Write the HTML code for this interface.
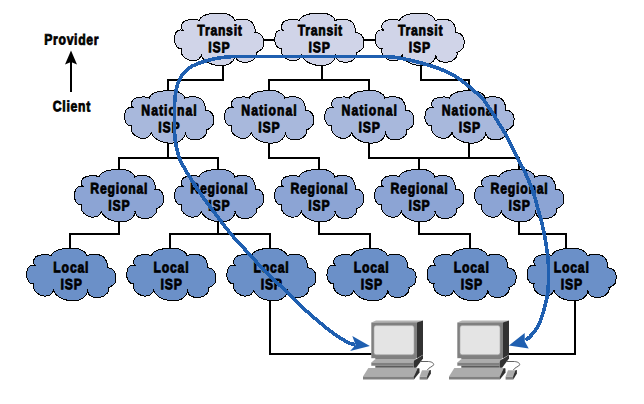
<!DOCTYPE html>
<html lang="en"><head><meta charset="utf-8"><title>ISP hierarchy</title>
<style>
html,body{margin:0;padding:0;background:#fff;}
body{width:644px;height:404px;overflow:hidden;}
svg{display:block;}
.t{font-family:"Liberation Sans",sans-serif;font-weight:bold;font-size:15px;text-anchor:middle;fill:#000;text-rendering:geometricPrecision;stroke:#000;stroke-width:0.8px;}
</style></head><body>
<svg width="644" height="404" viewBox="0 0 644 404">
<rect width="644" height="404" fill="#fff"/>
<path d="M263.5 40H274.5 M363.5 40H375 M223 65V80 M168 91.5V80H224 M322 65V80 M269 91.5V80H369V91.5 M421 65V80H469V91.5 M168 142V158 M119 170V158H218V170 M269 142V158H319V170 M369 142V158H519V170 M469 142V158 M419 158V170 M119 221V234H70V249 M218 221V234 M170 249V234H270V249 M319 221V234H370V249 M419 221V234H470V249 M519 221V234H566V249 M270 300V354H371.5 M575 300V354H508.5" fill="none" stroke="#000" stroke-width="2" stroke-linejoin="miter" stroke-linecap="butt"/>
<path transform="translate(174.00 13.00)" d="M24.90 7.30 C25.27 6.83 26.15 5.33 27.10 4.50 C28.05 3.67 29.00 2.93 30.60 2.30 C32.20 1.67 34.45 1.05 36.70 0.70 C38.95 0.35 41.75 0.27 44.10 0.20 C46.45 0.13 48.95 0.02 50.80 0.30 C52.65 0.58 53.82 1.20 55.20 1.90 C56.58 2.60 58.17 3.57 59.10 4.50 C60.03 5.43 60.52 7.00 60.80 7.50 C61.32 7.35 62.65 6.80 63.90 6.60 C65.15 6.40 66.85 6.30 68.30 6.30 C69.75 6.30 71.17 6.25 72.60 6.60 C74.03 6.95 75.75 7.58 76.90 8.40 C78.05 9.22 78.82 10.27 79.50 11.50 C80.18 12.73 80.70 14.43 81.00 15.80 C81.30 17.17 81.25 19.05 81.30 19.70 C81.88 19.80 83.72 19.78 84.80 20.30 C85.88 20.82 87.05 21.82 87.80 22.80 C88.55 23.78 89.02 25.03 89.30 26.20 C89.58 27.37 89.60 28.37 89.50 29.80 C89.40 31.23 89.35 33.48 88.70 34.80 C88.05 36.12 86.62 36.92 85.60 37.70 C84.58 38.48 83.10 39.20 82.60 39.50 C82.52 40.15 82.62 42.25 82.10 43.40 C81.58 44.55 80.50 45.55 79.50 46.40 C78.50 47.25 77.55 48.03 76.10 48.50 C74.65 48.97 72.55 49.22 70.80 49.20 C69.05 49.18 66.97 48.93 65.60 48.40 C64.23 47.87 63.32 46.98 62.60 46.00 C61.88 45.02 61.52 43.08 61.30 42.50 C61.22 42.87 61.23 43.77 60.80 44.70 C60.37 45.63 59.78 47.00 58.70 48.10 C57.62 49.20 56.20 50.53 54.30 51.30 C52.40 52.07 49.80 52.65 47.30 52.70 C44.80 52.75 41.65 52.22 39.30 51.60 C36.95 50.98 34.95 50.08 33.20 49.00 C31.45 47.92 29.78 46.25 28.80 45.10 C27.82 43.95 27.55 42.60 27.30 42.10 C27.12 42.48 26.82 43.62 26.20 44.40 C25.58 45.18 24.83 46.22 23.60 46.80 C22.37 47.38 20.38 47.90 18.80 47.90 C17.22 47.90 15.62 47.48 14.10 46.80 C12.58 46.12 10.80 44.88 9.70 43.80 C8.60 42.72 7.93 41.68 7.50 40.30 C7.07 38.92 7.17 36.30 7.10 35.50 C6.67 35.43 5.30 35.53 4.50 35.10 C3.70 34.67 2.93 33.87 2.30 32.90 C1.67 31.93 1.00 30.48 0.70 29.30 C0.40 28.12 0.43 27.05 0.50 25.80 C0.57 24.55 0.75 22.97 1.10 21.80 C1.45 20.63 1.88 19.58 2.60 18.80 C3.32 18.02 4.37 17.38 5.40 17.10 C6.43 16.82 8.23 17.10 8.80 17.10 C8.58 16.82 7.72 16.27 7.50 15.40 C7.28 14.53 7.13 13.03 7.50 11.90 C7.87 10.77 8.60 9.43 9.70 8.60 C10.80 7.77 12.67 7.25 14.10 6.90 C15.53 6.55 17.00 6.55 18.30 6.50 C19.60 6.45 20.80 6.47 21.90 6.60 C23.00 6.73 24.40 7.18 24.90 7.30Z M24.90 7.30 l0.64 0.63 M60.80 7.50 l-0.58 0.69 M81.30 19.70 l-0.88 0.17 M82.60 39.50 l-0.85 -0.29 M61.30 42.50 l-0.65 -0.62 M27.30 42.10 l0.67 -0.60 M7.10 35.50 l0.88 -0.21 M8.80 17.10 l0.87 0.23" fill="#d0d4e8" stroke="#000" stroke-width="1" stroke-linejoin="miter" shape-rendering="crispEdges"/>
<text transform="translate(219.60 35.30) rotate(0.3) scale(0.810 1)" textLength="54.94" lengthAdjust="spacing" class="t">Transit</text><text transform="translate(218.90 52.40) rotate(0.3) scale(0.810 1)" textLength="26.30" lengthAdjust="spacing" class="t">ISP</text>
<path transform="translate(274.30 13.00)" d="M24.90 7.30 C25.27 6.83 26.15 5.33 27.10 4.50 C28.05 3.67 29.00 2.93 30.60 2.30 C32.20 1.67 34.45 1.05 36.70 0.70 C38.95 0.35 41.75 0.27 44.10 0.20 C46.45 0.13 48.95 0.02 50.80 0.30 C52.65 0.58 53.82 1.20 55.20 1.90 C56.58 2.60 58.17 3.57 59.10 4.50 C60.03 5.43 60.52 7.00 60.80 7.50 C61.32 7.35 62.65 6.80 63.90 6.60 C65.15 6.40 66.85 6.30 68.30 6.30 C69.75 6.30 71.17 6.25 72.60 6.60 C74.03 6.95 75.75 7.58 76.90 8.40 C78.05 9.22 78.82 10.27 79.50 11.50 C80.18 12.73 80.70 14.43 81.00 15.80 C81.30 17.17 81.25 19.05 81.30 19.70 C81.88 19.80 83.72 19.78 84.80 20.30 C85.88 20.82 87.05 21.82 87.80 22.80 C88.55 23.78 89.02 25.03 89.30 26.20 C89.58 27.37 89.60 28.37 89.50 29.80 C89.40 31.23 89.35 33.48 88.70 34.80 C88.05 36.12 86.62 36.92 85.60 37.70 C84.58 38.48 83.10 39.20 82.60 39.50 C82.52 40.15 82.62 42.25 82.10 43.40 C81.58 44.55 80.50 45.55 79.50 46.40 C78.50 47.25 77.55 48.03 76.10 48.50 C74.65 48.97 72.55 49.22 70.80 49.20 C69.05 49.18 66.97 48.93 65.60 48.40 C64.23 47.87 63.32 46.98 62.60 46.00 C61.88 45.02 61.52 43.08 61.30 42.50 C61.22 42.87 61.23 43.77 60.80 44.70 C60.37 45.63 59.78 47.00 58.70 48.10 C57.62 49.20 56.20 50.53 54.30 51.30 C52.40 52.07 49.80 52.65 47.30 52.70 C44.80 52.75 41.65 52.22 39.30 51.60 C36.95 50.98 34.95 50.08 33.20 49.00 C31.45 47.92 29.78 46.25 28.80 45.10 C27.82 43.95 27.55 42.60 27.30 42.10 C27.12 42.48 26.82 43.62 26.20 44.40 C25.58 45.18 24.83 46.22 23.60 46.80 C22.37 47.38 20.38 47.90 18.80 47.90 C17.22 47.90 15.62 47.48 14.10 46.80 C12.58 46.12 10.80 44.88 9.70 43.80 C8.60 42.72 7.93 41.68 7.50 40.30 C7.07 38.92 7.17 36.30 7.10 35.50 C6.67 35.43 5.30 35.53 4.50 35.10 C3.70 34.67 2.93 33.87 2.30 32.90 C1.67 31.93 1.00 30.48 0.70 29.30 C0.40 28.12 0.43 27.05 0.50 25.80 C0.57 24.55 0.75 22.97 1.10 21.80 C1.45 20.63 1.88 19.58 2.60 18.80 C3.32 18.02 4.37 17.38 5.40 17.10 C6.43 16.82 8.23 17.10 8.80 17.10 C8.58 16.82 7.72 16.27 7.50 15.40 C7.28 14.53 7.13 13.03 7.50 11.90 C7.87 10.77 8.60 9.43 9.70 8.60 C10.80 7.77 12.67 7.25 14.10 6.90 C15.53 6.55 17.00 6.55 18.30 6.50 C19.60 6.45 20.80 6.47 21.90 6.60 C23.00 6.73 24.40 7.18 24.90 7.30Z M24.90 7.30 l0.64 0.63 M60.80 7.50 l-0.58 0.69 M81.30 19.70 l-0.88 0.17 M82.60 39.50 l-0.85 -0.29 M61.30 42.50 l-0.65 -0.62 M27.30 42.10 l0.67 -0.60 M7.10 35.50 l0.88 -0.21 M8.80 17.10 l0.87 0.23" fill="#d0d4e8" stroke="#000" stroke-width="1" stroke-linejoin="miter" shape-rendering="crispEdges"/>
<text transform="translate(319.90 35.30) rotate(0.3) scale(0.810 1)" textLength="54.94" lengthAdjust="spacing" class="t">Transit</text><text transform="translate(319.20 52.40) rotate(0.3) scale(0.810 1)" textLength="26.30" lengthAdjust="spacing" class="t">ISP</text>
<path transform="translate(374.60 13.00)" d="M24.90 7.30 C25.27 6.83 26.15 5.33 27.10 4.50 C28.05 3.67 29.00 2.93 30.60 2.30 C32.20 1.67 34.45 1.05 36.70 0.70 C38.95 0.35 41.75 0.27 44.10 0.20 C46.45 0.13 48.95 0.02 50.80 0.30 C52.65 0.58 53.82 1.20 55.20 1.90 C56.58 2.60 58.17 3.57 59.10 4.50 C60.03 5.43 60.52 7.00 60.80 7.50 C61.32 7.35 62.65 6.80 63.90 6.60 C65.15 6.40 66.85 6.30 68.30 6.30 C69.75 6.30 71.17 6.25 72.60 6.60 C74.03 6.95 75.75 7.58 76.90 8.40 C78.05 9.22 78.82 10.27 79.50 11.50 C80.18 12.73 80.70 14.43 81.00 15.80 C81.30 17.17 81.25 19.05 81.30 19.70 C81.88 19.80 83.72 19.78 84.80 20.30 C85.88 20.82 87.05 21.82 87.80 22.80 C88.55 23.78 89.02 25.03 89.30 26.20 C89.58 27.37 89.60 28.37 89.50 29.80 C89.40 31.23 89.35 33.48 88.70 34.80 C88.05 36.12 86.62 36.92 85.60 37.70 C84.58 38.48 83.10 39.20 82.60 39.50 C82.52 40.15 82.62 42.25 82.10 43.40 C81.58 44.55 80.50 45.55 79.50 46.40 C78.50 47.25 77.55 48.03 76.10 48.50 C74.65 48.97 72.55 49.22 70.80 49.20 C69.05 49.18 66.97 48.93 65.60 48.40 C64.23 47.87 63.32 46.98 62.60 46.00 C61.88 45.02 61.52 43.08 61.30 42.50 C61.22 42.87 61.23 43.77 60.80 44.70 C60.37 45.63 59.78 47.00 58.70 48.10 C57.62 49.20 56.20 50.53 54.30 51.30 C52.40 52.07 49.80 52.65 47.30 52.70 C44.80 52.75 41.65 52.22 39.30 51.60 C36.95 50.98 34.95 50.08 33.20 49.00 C31.45 47.92 29.78 46.25 28.80 45.10 C27.82 43.95 27.55 42.60 27.30 42.10 C27.12 42.48 26.82 43.62 26.20 44.40 C25.58 45.18 24.83 46.22 23.60 46.80 C22.37 47.38 20.38 47.90 18.80 47.90 C17.22 47.90 15.62 47.48 14.10 46.80 C12.58 46.12 10.80 44.88 9.70 43.80 C8.60 42.72 7.93 41.68 7.50 40.30 C7.07 38.92 7.17 36.30 7.10 35.50 C6.67 35.43 5.30 35.53 4.50 35.10 C3.70 34.67 2.93 33.87 2.30 32.90 C1.67 31.93 1.00 30.48 0.70 29.30 C0.40 28.12 0.43 27.05 0.50 25.80 C0.57 24.55 0.75 22.97 1.10 21.80 C1.45 20.63 1.88 19.58 2.60 18.80 C3.32 18.02 4.37 17.38 5.40 17.10 C6.43 16.82 8.23 17.10 8.80 17.10 C8.58 16.82 7.72 16.27 7.50 15.40 C7.28 14.53 7.13 13.03 7.50 11.90 C7.87 10.77 8.60 9.43 9.70 8.60 C10.80 7.77 12.67 7.25 14.10 6.90 C15.53 6.55 17.00 6.55 18.30 6.50 C19.60 6.45 20.80 6.47 21.90 6.60 C23.00 6.73 24.40 7.18 24.90 7.30Z M24.90 7.30 l0.64 0.63 M60.80 7.50 l-0.58 0.69 M81.30 19.70 l-0.88 0.17 M82.60 39.50 l-0.85 -0.29 M61.30 42.50 l-0.65 -0.62 M27.30 42.10 l0.67 -0.60 M7.10 35.50 l0.88 -0.21 M8.80 17.10 l0.87 0.23" fill="#d0d4e8" stroke="#000" stroke-width="1" stroke-linejoin="miter" shape-rendering="crispEdges"/>
<text transform="translate(420.20 35.30) rotate(0.3) scale(0.810 1)" textLength="54.94" lengthAdjust="spacing" class="t">Transit</text><text transform="translate(419.50 52.40) rotate(0.3) scale(0.810 1)" textLength="26.30" lengthAdjust="spacing" class="t">ISP</text>
<path transform="translate(124.10 90.50)" d="M24.90 7.30 C25.27 6.83 26.15 5.33 27.10 4.50 C28.05 3.67 29.00 2.93 30.60 2.30 C32.20 1.67 34.45 1.05 36.70 0.70 C38.95 0.35 41.75 0.27 44.10 0.20 C46.45 0.13 48.95 0.02 50.80 0.30 C52.65 0.58 53.82 1.20 55.20 1.90 C56.58 2.60 58.17 3.57 59.10 4.50 C60.03 5.43 60.52 7.00 60.80 7.50 C61.32 7.35 62.65 6.80 63.90 6.60 C65.15 6.40 66.85 6.30 68.30 6.30 C69.75 6.30 71.17 6.25 72.60 6.60 C74.03 6.95 75.75 7.58 76.90 8.40 C78.05 9.22 78.82 10.27 79.50 11.50 C80.18 12.73 80.70 14.43 81.00 15.80 C81.30 17.17 81.25 19.05 81.30 19.70 C81.88 19.80 83.72 19.78 84.80 20.30 C85.88 20.82 87.05 21.82 87.80 22.80 C88.55 23.78 89.02 25.03 89.30 26.20 C89.58 27.37 89.60 28.37 89.50 29.80 C89.40 31.23 89.35 33.48 88.70 34.80 C88.05 36.12 86.62 36.92 85.60 37.70 C84.58 38.48 83.10 39.20 82.60 39.50 C82.52 40.15 82.62 42.25 82.10 43.40 C81.58 44.55 80.50 45.55 79.50 46.40 C78.50 47.25 77.55 48.03 76.10 48.50 C74.65 48.97 72.55 49.22 70.80 49.20 C69.05 49.18 66.97 48.93 65.60 48.40 C64.23 47.87 63.32 46.98 62.60 46.00 C61.88 45.02 61.52 43.08 61.30 42.50 C61.22 42.87 61.23 43.77 60.80 44.70 C60.37 45.63 59.78 47.00 58.70 48.10 C57.62 49.20 56.20 50.53 54.30 51.30 C52.40 52.07 49.80 52.65 47.30 52.70 C44.80 52.75 41.65 52.22 39.30 51.60 C36.95 50.98 34.95 50.08 33.20 49.00 C31.45 47.92 29.78 46.25 28.80 45.10 C27.82 43.95 27.55 42.60 27.30 42.10 C27.12 42.48 26.82 43.62 26.20 44.40 C25.58 45.18 24.83 46.22 23.60 46.80 C22.37 47.38 20.38 47.90 18.80 47.90 C17.22 47.90 15.62 47.48 14.10 46.80 C12.58 46.12 10.80 44.88 9.70 43.80 C8.60 42.72 7.93 41.68 7.50 40.30 C7.07 38.92 7.17 36.30 7.10 35.50 C6.67 35.43 5.30 35.53 4.50 35.10 C3.70 34.67 2.93 33.87 2.30 32.90 C1.67 31.93 1.00 30.48 0.70 29.30 C0.40 28.12 0.43 27.05 0.50 25.80 C0.57 24.55 0.75 22.97 1.10 21.80 C1.45 20.63 1.88 19.58 2.60 18.80 C3.32 18.02 4.37 17.38 5.40 17.10 C6.43 16.82 8.23 17.10 8.80 17.10 C8.58 16.82 7.72 16.27 7.50 15.40 C7.28 14.53 7.13 13.03 7.50 11.90 C7.87 10.77 8.60 9.43 9.70 8.60 C10.80 7.77 12.67 7.25 14.10 6.90 C15.53 6.55 17.00 6.55 18.30 6.50 C19.60 6.45 20.80 6.47 21.90 6.60 C23.00 6.73 24.40 7.18 24.90 7.30Z M24.90 7.30 l0.64 0.63 M60.80 7.50 l-0.58 0.69 M81.30 19.70 l-0.88 0.17 M82.60 39.50 l-0.85 -0.29 M61.30 42.50 l-0.65 -0.62 M27.30 42.10 l0.67 -0.60 M7.10 35.50 l0.88 -0.21 M8.80 17.10 l0.87 0.23" fill="#a8b8dc" stroke="#000" stroke-width="1" stroke-linejoin="miter" shape-rendering="crispEdges"/>
<text transform="translate(169.00 115.30) rotate(0.3) scale(0.810 1)" textLength="68.27" lengthAdjust="spacing" class="t">National</text><text transform="translate(169.00 132.40) rotate(0.3) scale(0.810 1)" textLength="26.30" lengthAdjust="spacing" class="t">ISP</text>
<path transform="translate(224.10 90.50)" d="M24.90 7.30 C25.27 6.83 26.15 5.33 27.10 4.50 C28.05 3.67 29.00 2.93 30.60 2.30 C32.20 1.67 34.45 1.05 36.70 0.70 C38.95 0.35 41.75 0.27 44.10 0.20 C46.45 0.13 48.95 0.02 50.80 0.30 C52.65 0.58 53.82 1.20 55.20 1.90 C56.58 2.60 58.17 3.57 59.10 4.50 C60.03 5.43 60.52 7.00 60.80 7.50 C61.32 7.35 62.65 6.80 63.90 6.60 C65.15 6.40 66.85 6.30 68.30 6.30 C69.75 6.30 71.17 6.25 72.60 6.60 C74.03 6.95 75.75 7.58 76.90 8.40 C78.05 9.22 78.82 10.27 79.50 11.50 C80.18 12.73 80.70 14.43 81.00 15.80 C81.30 17.17 81.25 19.05 81.30 19.70 C81.88 19.80 83.72 19.78 84.80 20.30 C85.88 20.82 87.05 21.82 87.80 22.80 C88.55 23.78 89.02 25.03 89.30 26.20 C89.58 27.37 89.60 28.37 89.50 29.80 C89.40 31.23 89.35 33.48 88.70 34.80 C88.05 36.12 86.62 36.92 85.60 37.70 C84.58 38.48 83.10 39.20 82.60 39.50 C82.52 40.15 82.62 42.25 82.10 43.40 C81.58 44.55 80.50 45.55 79.50 46.40 C78.50 47.25 77.55 48.03 76.10 48.50 C74.65 48.97 72.55 49.22 70.80 49.20 C69.05 49.18 66.97 48.93 65.60 48.40 C64.23 47.87 63.32 46.98 62.60 46.00 C61.88 45.02 61.52 43.08 61.30 42.50 C61.22 42.87 61.23 43.77 60.80 44.70 C60.37 45.63 59.78 47.00 58.70 48.10 C57.62 49.20 56.20 50.53 54.30 51.30 C52.40 52.07 49.80 52.65 47.30 52.70 C44.80 52.75 41.65 52.22 39.30 51.60 C36.95 50.98 34.95 50.08 33.20 49.00 C31.45 47.92 29.78 46.25 28.80 45.10 C27.82 43.95 27.55 42.60 27.30 42.10 C27.12 42.48 26.82 43.62 26.20 44.40 C25.58 45.18 24.83 46.22 23.60 46.80 C22.37 47.38 20.38 47.90 18.80 47.90 C17.22 47.90 15.62 47.48 14.10 46.80 C12.58 46.12 10.80 44.88 9.70 43.80 C8.60 42.72 7.93 41.68 7.50 40.30 C7.07 38.92 7.17 36.30 7.10 35.50 C6.67 35.43 5.30 35.53 4.50 35.10 C3.70 34.67 2.93 33.87 2.30 32.90 C1.67 31.93 1.00 30.48 0.70 29.30 C0.40 28.12 0.43 27.05 0.50 25.80 C0.57 24.55 0.75 22.97 1.10 21.80 C1.45 20.63 1.88 19.58 2.60 18.80 C3.32 18.02 4.37 17.38 5.40 17.10 C6.43 16.82 8.23 17.10 8.80 17.10 C8.58 16.82 7.72 16.27 7.50 15.40 C7.28 14.53 7.13 13.03 7.50 11.90 C7.87 10.77 8.60 9.43 9.70 8.60 C10.80 7.77 12.67 7.25 14.10 6.90 C15.53 6.55 17.00 6.55 18.30 6.50 C19.60 6.45 20.80 6.47 21.90 6.60 C23.00 6.73 24.40 7.18 24.90 7.30Z M24.90 7.30 l0.64 0.63 M60.80 7.50 l-0.58 0.69 M81.30 19.70 l-0.88 0.17 M82.60 39.50 l-0.85 -0.29 M61.30 42.50 l-0.65 -0.62 M27.30 42.10 l0.67 -0.60 M7.10 35.50 l0.88 -0.21 M8.80 17.10 l0.87 0.23" fill="#a8b8dc" stroke="#000" stroke-width="1" stroke-linejoin="miter" shape-rendering="crispEdges"/>
<text transform="translate(269.00 115.30) rotate(0.3) scale(0.810 1)" textLength="68.27" lengthAdjust="spacing" class="t">National</text><text transform="translate(269.00 132.40) rotate(0.3) scale(0.810 1)" textLength="26.30" lengthAdjust="spacing" class="t">ISP</text>
<path transform="translate(324.30 90.50)" d="M24.90 7.30 C25.27 6.83 26.15 5.33 27.10 4.50 C28.05 3.67 29.00 2.93 30.60 2.30 C32.20 1.67 34.45 1.05 36.70 0.70 C38.95 0.35 41.75 0.27 44.10 0.20 C46.45 0.13 48.95 0.02 50.80 0.30 C52.65 0.58 53.82 1.20 55.20 1.90 C56.58 2.60 58.17 3.57 59.10 4.50 C60.03 5.43 60.52 7.00 60.80 7.50 C61.32 7.35 62.65 6.80 63.90 6.60 C65.15 6.40 66.85 6.30 68.30 6.30 C69.75 6.30 71.17 6.25 72.60 6.60 C74.03 6.95 75.75 7.58 76.90 8.40 C78.05 9.22 78.82 10.27 79.50 11.50 C80.18 12.73 80.70 14.43 81.00 15.80 C81.30 17.17 81.25 19.05 81.30 19.70 C81.88 19.80 83.72 19.78 84.80 20.30 C85.88 20.82 87.05 21.82 87.80 22.80 C88.55 23.78 89.02 25.03 89.30 26.20 C89.58 27.37 89.60 28.37 89.50 29.80 C89.40 31.23 89.35 33.48 88.70 34.80 C88.05 36.12 86.62 36.92 85.60 37.70 C84.58 38.48 83.10 39.20 82.60 39.50 C82.52 40.15 82.62 42.25 82.10 43.40 C81.58 44.55 80.50 45.55 79.50 46.40 C78.50 47.25 77.55 48.03 76.10 48.50 C74.65 48.97 72.55 49.22 70.80 49.20 C69.05 49.18 66.97 48.93 65.60 48.40 C64.23 47.87 63.32 46.98 62.60 46.00 C61.88 45.02 61.52 43.08 61.30 42.50 C61.22 42.87 61.23 43.77 60.80 44.70 C60.37 45.63 59.78 47.00 58.70 48.10 C57.62 49.20 56.20 50.53 54.30 51.30 C52.40 52.07 49.80 52.65 47.30 52.70 C44.80 52.75 41.65 52.22 39.30 51.60 C36.95 50.98 34.95 50.08 33.20 49.00 C31.45 47.92 29.78 46.25 28.80 45.10 C27.82 43.95 27.55 42.60 27.30 42.10 C27.12 42.48 26.82 43.62 26.20 44.40 C25.58 45.18 24.83 46.22 23.60 46.80 C22.37 47.38 20.38 47.90 18.80 47.90 C17.22 47.90 15.62 47.48 14.10 46.80 C12.58 46.12 10.80 44.88 9.70 43.80 C8.60 42.72 7.93 41.68 7.50 40.30 C7.07 38.92 7.17 36.30 7.10 35.50 C6.67 35.43 5.30 35.53 4.50 35.10 C3.70 34.67 2.93 33.87 2.30 32.90 C1.67 31.93 1.00 30.48 0.70 29.30 C0.40 28.12 0.43 27.05 0.50 25.80 C0.57 24.55 0.75 22.97 1.10 21.80 C1.45 20.63 1.88 19.58 2.60 18.80 C3.32 18.02 4.37 17.38 5.40 17.10 C6.43 16.82 8.23 17.10 8.80 17.10 C8.58 16.82 7.72 16.27 7.50 15.40 C7.28 14.53 7.13 13.03 7.50 11.90 C7.87 10.77 8.60 9.43 9.70 8.60 C10.80 7.77 12.67 7.25 14.10 6.90 C15.53 6.55 17.00 6.55 18.30 6.50 C19.60 6.45 20.80 6.47 21.90 6.60 C23.00 6.73 24.40 7.18 24.90 7.30Z M24.90 7.30 l0.64 0.63 M60.80 7.50 l-0.58 0.69 M81.30 19.70 l-0.88 0.17 M82.60 39.50 l-0.85 -0.29 M61.30 42.50 l-0.65 -0.62 M27.30 42.10 l0.67 -0.60 M7.10 35.50 l0.88 -0.21 M8.80 17.10 l0.87 0.23" fill="#a8b8dc" stroke="#000" stroke-width="1" stroke-linejoin="miter" shape-rendering="crispEdges"/>
<text transform="translate(369.20 115.30) rotate(0.3) scale(0.810 1)" textLength="68.27" lengthAdjust="spacing" class="t">National</text><text transform="translate(369.20 132.40) rotate(0.3) scale(0.810 1)" textLength="26.30" lengthAdjust="spacing" class="t">ISP</text>
<path transform="translate(424.50 90.50)" d="M24.90 7.30 C25.27 6.83 26.15 5.33 27.10 4.50 C28.05 3.67 29.00 2.93 30.60 2.30 C32.20 1.67 34.45 1.05 36.70 0.70 C38.95 0.35 41.75 0.27 44.10 0.20 C46.45 0.13 48.95 0.02 50.80 0.30 C52.65 0.58 53.82 1.20 55.20 1.90 C56.58 2.60 58.17 3.57 59.10 4.50 C60.03 5.43 60.52 7.00 60.80 7.50 C61.32 7.35 62.65 6.80 63.90 6.60 C65.15 6.40 66.85 6.30 68.30 6.30 C69.75 6.30 71.17 6.25 72.60 6.60 C74.03 6.95 75.75 7.58 76.90 8.40 C78.05 9.22 78.82 10.27 79.50 11.50 C80.18 12.73 80.70 14.43 81.00 15.80 C81.30 17.17 81.25 19.05 81.30 19.70 C81.88 19.80 83.72 19.78 84.80 20.30 C85.88 20.82 87.05 21.82 87.80 22.80 C88.55 23.78 89.02 25.03 89.30 26.20 C89.58 27.37 89.60 28.37 89.50 29.80 C89.40 31.23 89.35 33.48 88.70 34.80 C88.05 36.12 86.62 36.92 85.60 37.70 C84.58 38.48 83.10 39.20 82.60 39.50 C82.52 40.15 82.62 42.25 82.10 43.40 C81.58 44.55 80.50 45.55 79.50 46.40 C78.50 47.25 77.55 48.03 76.10 48.50 C74.65 48.97 72.55 49.22 70.80 49.20 C69.05 49.18 66.97 48.93 65.60 48.40 C64.23 47.87 63.32 46.98 62.60 46.00 C61.88 45.02 61.52 43.08 61.30 42.50 C61.22 42.87 61.23 43.77 60.80 44.70 C60.37 45.63 59.78 47.00 58.70 48.10 C57.62 49.20 56.20 50.53 54.30 51.30 C52.40 52.07 49.80 52.65 47.30 52.70 C44.80 52.75 41.65 52.22 39.30 51.60 C36.95 50.98 34.95 50.08 33.20 49.00 C31.45 47.92 29.78 46.25 28.80 45.10 C27.82 43.95 27.55 42.60 27.30 42.10 C27.12 42.48 26.82 43.62 26.20 44.40 C25.58 45.18 24.83 46.22 23.60 46.80 C22.37 47.38 20.38 47.90 18.80 47.90 C17.22 47.90 15.62 47.48 14.10 46.80 C12.58 46.12 10.80 44.88 9.70 43.80 C8.60 42.72 7.93 41.68 7.50 40.30 C7.07 38.92 7.17 36.30 7.10 35.50 C6.67 35.43 5.30 35.53 4.50 35.10 C3.70 34.67 2.93 33.87 2.30 32.90 C1.67 31.93 1.00 30.48 0.70 29.30 C0.40 28.12 0.43 27.05 0.50 25.80 C0.57 24.55 0.75 22.97 1.10 21.80 C1.45 20.63 1.88 19.58 2.60 18.80 C3.32 18.02 4.37 17.38 5.40 17.10 C6.43 16.82 8.23 17.10 8.80 17.10 C8.58 16.82 7.72 16.27 7.50 15.40 C7.28 14.53 7.13 13.03 7.50 11.90 C7.87 10.77 8.60 9.43 9.70 8.60 C10.80 7.77 12.67 7.25 14.10 6.90 C15.53 6.55 17.00 6.55 18.30 6.50 C19.60 6.45 20.80 6.47 21.90 6.60 C23.00 6.73 24.40 7.18 24.90 7.30Z M24.90 7.30 l0.64 0.63 M60.80 7.50 l-0.58 0.69 M81.30 19.70 l-0.88 0.17 M82.60 39.50 l-0.85 -0.29 M61.30 42.50 l-0.65 -0.62 M27.30 42.10 l0.67 -0.60 M7.10 35.50 l0.88 -0.21 M8.80 17.10 l0.87 0.23" fill="#a8b8dc" stroke="#000" stroke-width="1" stroke-linejoin="miter" shape-rendering="crispEdges"/>
<text transform="translate(469.40 115.30) rotate(0.3) scale(0.810 1)" textLength="68.27" lengthAdjust="spacing" class="t">National</text><text transform="translate(469.40 132.40) rotate(0.3) scale(0.810 1)" textLength="26.30" lengthAdjust="spacing" class="t">ISP</text>
<path transform="translate(74.00 169.30)" d="M24.90 7.30 C25.27 6.83 26.15 5.33 27.10 4.50 C28.05 3.67 29.00 2.93 30.60 2.30 C32.20 1.67 34.45 1.05 36.70 0.70 C38.95 0.35 41.75 0.27 44.10 0.20 C46.45 0.13 48.95 0.02 50.80 0.30 C52.65 0.58 53.82 1.20 55.20 1.90 C56.58 2.60 58.17 3.57 59.10 4.50 C60.03 5.43 60.52 7.00 60.80 7.50 C61.32 7.35 62.65 6.80 63.90 6.60 C65.15 6.40 66.85 6.30 68.30 6.30 C69.75 6.30 71.17 6.25 72.60 6.60 C74.03 6.95 75.75 7.58 76.90 8.40 C78.05 9.22 78.82 10.27 79.50 11.50 C80.18 12.73 80.70 14.43 81.00 15.80 C81.30 17.17 81.25 19.05 81.30 19.70 C81.88 19.80 83.72 19.78 84.80 20.30 C85.88 20.82 87.05 21.82 87.80 22.80 C88.55 23.78 89.02 25.03 89.30 26.20 C89.58 27.37 89.60 28.37 89.50 29.80 C89.40 31.23 89.35 33.48 88.70 34.80 C88.05 36.12 86.62 36.92 85.60 37.70 C84.58 38.48 83.10 39.20 82.60 39.50 C82.52 40.15 82.62 42.25 82.10 43.40 C81.58 44.55 80.50 45.55 79.50 46.40 C78.50 47.25 77.55 48.03 76.10 48.50 C74.65 48.97 72.55 49.22 70.80 49.20 C69.05 49.18 66.97 48.93 65.60 48.40 C64.23 47.87 63.32 46.98 62.60 46.00 C61.88 45.02 61.52 43.08 61.30 42.50 C61.22 42.87 61.23 43.77 60.80 44.70 C60.37 45.63 59.78 47.00 58.70 48.10 C57.62 49.20 56.20 50.53 54.30 51.30 C52.40 52.07 49.80 52.65 47.30 52.70 C44.80 52.75 41.65 52.22 39.30 51.60 C36.95 50.98 34.95 50.08 33.20 49.00 C31.45 47.92 29.78 46.25 28.80 45.10 C27.82 43.95 27.55 42.60 27.30 42.10 C27.12 42.48 26.82 43.62 26.20 44.40 C25.58 45.18 24.83 46.22 23.60 46.80 C22.37 47.38 20.38 47.90 18.80 47.90 C17.22 47.90 15.62 47.48 14.10 46.80 C12.58 46.12 10.80 44.88 9.70 43.80 C8.60 42.72 7.93 41.68 7.50 40.30 C7.07 38.92 7.17 36.30 7.10 35.50 C6.67 35.43 5.30 35.53 4.50 35.10 C3.70 34.67 2.93 33.87 2.30 32.90 C1.67 31.93 1.00 30.48 0.70 29.30 C0.40 28.12 0.43 27.05 0.50 25.80 C0.57 24.55 0.75 22.97 1.10 21.80 C1.45 20.63 1.88 19.58 2.60 18.80 C3.32 18.02 4.37 17.38 5.40 17.10 C6.43 16.82 8.23 17.10 8.80 17.10 C8.58 16.82 7.72 16.27 7.50 15.40 C7.28 14.53 7.13 13.03 7.50 11.90 C7.87 10.77 8.60 9.43 9.70 8.60 C10.80 7.77 12.67 7.25 14.10 6.90 C15.53 6.55 17.00 6.55 18.30 6.50 C19.60 6.45 20.80 6.47 21.90 6.60 C23.00 6.73 24.40 7.18 24.90 7.30Z M24.90 7.30 l0.64 0.63 M60.80 7.50 l-0.58 0.69 M81.30 19.70 l-0.88 0.17 M82.60 39.50 l-0.85 -0.29 M61.30 42.50 l-0.65 -0.62 M27.30 42.10 l0.67 -0.60 M7.10 35.50 l0.88 -0.21 M8.80 17.10 l0.87 0.23" fill="#8ca4d4" stroke="#000" stroke-width="1" stroke-linejoin="miter" shape-rendering="crispEdges"/>
<text transform="translate(118.90 193.50) rotate(0.3) scale(0.810 1)" textLength="70.62" lengthAdjust="spacing" class="t">Regional</text><text transform="translate(118.90 210.55) rotate(0.3) scale(0.810 1)" textLength="26.30" lengthAdjust="spacing" class="t">ISP</text>
<path transform="translate(174.05 169.30)" d="M24.90 7.30 C25.27 6.83 26.15 5.33 27.10 4.50 C28.05 3.67 29.00 2.93 30.60 2.30 C32.20 1.67 34.45 1.05 36.70 0.70 C38.95 0.35 41.75 0.27 44.10 0.20 C46.45 0.13 48.95 0.02 50.80 0.30 C52.65 0.58 53.82 1.20 55.20 1.90 C56.58 2.60 58.17 3.57 59.10 4.50 C60.03 5.43 60.52 7.00 60.80 7.50 C61.32 7.35 62.65 6.80 63.90 6.60 C65.15 6.40 66.85 6.30 68.30 6.30 C69.75 6.30 71.17 6.25 72.60 6.60 C74.03 6.95 75.75 7.58 76.90 8.40 C78.05 9.22 78.82 10.27 79.50 11.50 C80.18 12.73 80.70 14.43 81.00 15.80 C81.30 17.17 81.25 19.05 81.30 19.70 C81.88 19.80 83.72 19.78 84.80 20.30 C85.88 20.82 87.05 21.82 87.80 22.80 C88.55 23.78 89.02 25.03 89.30 26.20 C89.58 27.37 89.60 28.37 89.50 29.80 C89.40 31.23 89.35 33.48 88.70 34.80 C88.05 36.12 86.62 36.92 85.60 37.70 C84.58 38.48 83.10 39.20 82.60 39.50 C82.52 40.15 82.62 42.25 82.10 43.40 C81.58 44.55 80.50 45.55 79.50 46.40 C78.50 47.25 77.55 48.03 76.10 48.50 C74.65 48.97 72.55 49.22 70.80 49.20 C69.05 49.18 66.97 48.93 65.60 48.40 C64.23 47.87 63.32 46.98 62.60 46.00 C61.88 45.02 61.52 43.08 61.30 42.50 C61.22 42.87 61.23 43.77 60.80 44.70 C60.37 45.63 59.78 47.00 58.70 48.10 C57.62 49.20 56.20 50.53 54.30 51.30 C52.40 52.07 49.80 52.65 47.30 52.70 C44.80 52.75 41.65 52.22 39.30 51.60 C36.95 50.98 34.95 50.08 33.20 49.00 C31.45 47.92 29.78 46.25 28.80 45.10 C27.82 43.95 27.55 42.60 27.30 42.10 C27.12 42.48 26.82 43.62 26.20 44.40 C25.58 45.18 24.83 46.22 23.60 46.80 C22.37 47.38 20.38 47.90 18.80 47.90 C17.22 47.90 15.62 47.48 14.10 46.80 C12.58 46.12 10.80 44.88 9.70 43.80 C8.60 42.72 7.93 41.68 7.50 40.30 C7.07 38.92 7.17 36.30 7.10 35.50 C6.67 35.43 5.30 35.53 4.50 35.10 C3.70 34.67 2.93 33.87 2.30 32.90 C1.67 31.93 1.00 30.48 0.70 29.30 C0.40 28.12 0.43 27.05 0.50 25.80 C0.57 24.55 0.75 22.97 1.10 21.80 C1.45 20.63 1.88 19.58 2.60 18.80 C3.32 18.02 4.37 17.38 5.40 17.10 C6.43 16.82 8.23 17.10 8.80 17.10 C8.58 16.82 7.72 16.27 7.50 15.40 C7.28 14.53 7.13 13.03 7.50 11.90 C7.87 10.77 8.60 9.43 9.70 8.60 C10.80 7.77 12.67 7.25 14.10 6.90 C15.53 6.55 17.00 6.55 18.30 6.50 C19.60 6.45 20.80 6.47 21.90 6.60 C23.00 6.73 24.40 7.18 24.90 7.30Z M24.90 7.30 l0.64 0.63 M60.80 7.50 l-0.58 0.69 M81.30 19.70 l-0.88 0.17 M82.60 39.50 l-0.85 -0.29 M61.30 42.50 l-0.65 -0.62 M27.30 42.10 l0.67 -0.60 M7.10 35.50 l0.88 -0.21 M8.80 17.10 l0.87 0.23" fill="#8ca4d4" stroke="#000" stroke-width="1" stroke-linejoin="miter" shape-rendering="crispEdges"/>
<text transform="translate(218.95 193.50) rotate(0.3) scale(0.810 1)" textLength="70.62" lengthAdjust="spacing" class="t">Regional</text><text transform="translate(218.95 210.55) rotate(0.3) scale(0.810 1)" textLength="26.30" lengthAdjust="spacing" class="t">ISP</text>
<path transform="translate(274.10 169.30)" d="M24.90 7.30 C25.27 6.83 26.15 5.33 27.10 4.50 C28.05 3.67 29.00 2.93 30.60 2.30 C32.20 1.67 34.45 1.05 36.70 0.70 C38.95 0.35 41.75 0.27 44.10 0.20 C46.45 0.13 48.95 0.02 50.80 0.30 C52.65 0.58 53.82 1.20 55.20 1.90 C56.58 2.60 58.17 3.57 59.10 4.50 C60.03 5.43 60.52 7.00 60.80 7.50 C61.32 7.35 62.65 6.80 63.90 6.60 C65.15 6.40 66.85 6.30 68.30 6.30 C69.75 6.30 71.17 6.25 72.60 6.60 C74.03 6.95 75.75 7.58 76.90 8.40 C78.05 9.22 78.82 10.27 79.50 11.50 C80.18 12.73 80.70 14.43 81.00 15.80 C81.30 17.17 81.25 19.05 81.30 19.70 C81.88 19.80 83.72 19.78 84.80 20.30 C85.88 20.82 87.05 21.82 87.80 22.80 C88.55 23.78 89.02 25.03 89.30 26.20 C89.58 27.37 89.60 28.37 89.50 29.80 C89.40 31.23 89.35 33.48 88.70 34.80 C88.05 36.12 86.62 36.92 85.60 37.70 C84.58 38.48 83.10 39.20 82.60 39.50 C82.52 40.15 82.62 42.25 82.10 43.40 C81.58 44.55 80.50 45.55 79.50 46.40 C78.50 47.25 77.55 48.03 76.10 48.50 C74.65 48.97 72.55 49.22 70.80 49.20 C69.05 49.18 66.97 48.93 65.60 48.40 C64.23 47.87 63.32 46.98 62.60 46.00 C61.88 45.02 61.52 43.08 61.30 42.50 C61.22 42.87 61.23 43.77 60.80 44.70 C60.37 45.63 59.78 47.00 58.70 48.10 C57.62 49.20 56.20 50.53 54.30 51.30 C52.40 52.07 49.80 52.65 47.30 52.70 C44.80 52.75 41.65 52.22 39.30 51.60 C36.95 50.98 34.95 50.08 33.20 49.00 C31.45 47.92 29.78 46.25 28.80 45.10 C27.82 43.95 27.55 42.60 27.30 42.10 C27.12 42.48 26.82 43.62 26.20 44.40 C25.58 45.18 24.83 46.22 23.60 46.80 C22.37 47.38 20.38 47.90 18.80 47.90 C17.22 47.90 15.62 47.48 14.10 46.80 C12.58 46.12 10.80 44.88 9.70 43.80 C8.60 42.72 7.93 41.68 7.50 40.30 C7.07 38.92 7.17 36.30 7.10 35.50 C6.67 35.43 5.30 35.53 4.50 35.10 C3.70 34.67 2.93 33.87 2.30 32.90 C1.67 31.93 1.00 30.48 0.70 29.30 C0.40 28.12 0.43 27.05 0.50 25.80 C0.57 24.55 0.75 22.97 1.10 21.80 C1.45 20.63 1.88 19.58 2.60 18.80 C3.32 18.02 4.37 17.38 5.40 17.10 C6.43 16.82 8.23 17.10 8.80 17.10 C8.58 16.82 7.72 16.27 7.50 15.40 C7.28 14.53 7.13 13.03 7.50 11.90 C7.87 10.77 8.60 9.43 9.70 8.60 C10.80 7.77 12.67 7.25 14.10 6.90 C15.53 6.55 17.00 6.55 18.30 6.50 C19.60 6.45 20.80 6.47 21.90 6.60 C23.00 6.73 24.40 7.18 24.90 7.30Z M24.90 7.30 l0.64 0.63 M60.80 7.50 l-0.58 0.69 M81.30 19.70 l-0.88 0.17 M82.60 39.50 l-0.85 -0.29 M61.30 42.50 l-0.65 -0.62 M27.30 42.10 l0.67 -0.60 M7.10 35.50 l0.88 -0.21 M8.80 17.10 l0.87 0.23" fill="#8ca4d4" stroke="#000" stroke-width="1" stroke-linejoin="miter" shape-rendering="crispEdges"/>
<text transform="translate(319.00 193.50) rotate(0.3) scale(0.810 1)" textLength="70.62" lengthAdjust="spacing" class="t">Regional</text><text transform="translate(319.00 210.55) rotate(0.3) scale(0.810 1)" textLength="26.30" lengthAdjust="spacing" class="t">ISP</text>
<path transform="translate(374.15 169.30)" d="M24.90 7.30 C25.27 6.83 26.15 5.33 27.10 4.50 C28.05 3.67 29.00 2.93 30.60 2.30 C32.20 1.67 34.45 1.05 36.70 0.70 C38.95 0.35 41.75 0.27 44.10 0.20 C46.45 0.13 48.95 0.02 50.80 0.30 C52.65 0.58 53.82 1.20 55.20 1.90 C56.58 2.60 58.17 3.57 59.10 4.50 C60.03 5.43 60.52 7.00 60.80 7.50 C61.32 7.35 62.65 6.80 63.90 6.60 C65.15 6.40 66.85 6.30 68.30 6.30 C69.75 6.30 71.17 6.25 72.60 6.60 C74.03 6.95 75.75 7.58 76.90 8.40 C78.05 9.22 78.82 10.27 79.50 11.50 C80.18 12.73 80.70 14.43 81.00 15.80 C81.30 17.17 81.25 19.05 81.30 19.70 C81.88 19.80 83.72 19.78 84.80 20.30 C85.88 20.82 87.05 21.82 87.80 22.80 C88.55 23.78 89.02 25.03 89.30 26.20 C89.58 27.37 89.60 28.37 89.50 29.80 C89.40 31.23 89.35 33.48 88.70 34.80 C88.05 36.12 86.62 36.92 85.60 37.70 C84.58 38.48 83.10 39.20 82.60 39.50 C82.52 40.15 82.62 42.25 82.10 43.40 C81.58 44.55 80.50 45.55 79.50 46.40 C78.50 47.25 77.55 48.03 76.10 48.50 C74.65 48.97 72.55 49.22 70.80 49.20 C69.05 49.18 66.97 48.93 65.60 48.40 C64.23 47.87 63.32 46.98 62.60 46.00 C61.88 45.02 61.52 43.08 61.30 42.50 C61.22 42.87 61.23 43.77 60.80 44.70 C60.37 45.63 59.78 47.00 58.70 48.10 C57.62 49.20 56.20 50.53 54.30 51.30 C52.40 52.07 49.80 52.65 47.30 52.70 C44.80 52.75 41.65 52.22 39.30 51.60 C36.95 50.98 34.95 50.08 33.20 49.00 C31.45 47.92 29.78 46.25 28.80 45.10 C27.82 43.95 27.55 42.60 27.30 42.10 C27.12 42.48 26.82 43.62 26.20 44.40 C25.58 45.18 24.83 46.22 23.60 46.80 C22.37 47.38 20.38 47.90 18.80 47.90 C17.22 47.90 15.62 47.48 14.10 46.80 C12.58 46.12 10.80 44.88 9.70 43.80 C8.60 42.72 7.93 41.68 7.50 40.30 C7.07 38.92 7.17 36.30 7.10 35.50 C6.67 35.43 5.30 35.53 4.50 35.10 C3.70 34.67 2.93 33.87 2.30 32.90 C1.67 31.93 1.00 30.48 0.70 29.30 C0.40 28.12 0.43 27.05 0.50 25.80 C0.57 24.55 0.75 22.97 1.10 21.80 C1.45 20.63 1.88 19.58 2.60 18.80 C3.32 18.02 4.37 17.38 5.40 17.10 C6.43 16.82 8.23 17.10 8.80 17.10 C8.58 16.82 7.72 16.27 7.50 15.40 C7.28 14.53 7.13 13.03 7.50 11.90 C7.87 10.77 8.60 9.43 9.70 8.60 C10.80 7.77 12.67 7.25 14.10 6.90 C15.53 6.55 17.00 6.55 18.30 6.50 C19.60 6.45 20.80 6.47 21.90 6.60 C23.00 6.73 24.40 7.18 24.90 7.30Z M24.90 7.30 l0.64 0.63 M60.80 7.50 l-0.58 0.69 M81.30 19.70 l-0.88 0.17 M82.60 39.50 l-0.85 -0.29 M61.30 42.50 l-0.65 -0.62 M27.30 42.10 l0.67 -0.60 M7.10 35.50 l0.88 -0.21 M8.80 17.10 l0.87 0.23" fill="#8ca4d4" stroke="#000" stroke-width="1" stroke-linejoin="miter" shape-rendering="crispEdges"/>
<text transform="translate(419.05 193.50) rotate(0.3) scale(0.810 1)" textLength="70.62" lengthAdjust="spacing" class="t">Regional</text><text transform="translate(419.05 210.55) rotate(0.3) scale(0.810 1)" textLength="26.30" lengthAdjust="spacing" class="t">ISP</text>
<path transform="translate(474.20 169.30)" d="M24.90 7.30 C25.27 6.83 26.15 5.33 27.10 4.50 C28.05 3.67 29.00 2.93 30.60 2.30 C32.20 1.67 34.45 1.05 36.70 0.70 C38.95 0.35 41.75 0.27 44.10 0.20 C46.45 0.13 48.95 0.02 50.80 0.30 C52.65 0.58 53.82 1.20 55.20 1.90 C56.58 2.60 58.17 3.57 59.10 4.50 C60.03 5.43 60.52 7.00 60.80 7.50 C61.32 7.35 62.65 6.80 63.90 6.60 C65.15 6.40 66.85 6.30 68.30 6.30 C69.75 6.30 71.17 6.25 72.60 6.60 C74.03 6.95 75.75 7.58 76.90 8.40 C78.05 9.22 78.82 10.27 79.50 11.50 C80.18 12.73 80.70 14.43 81.00 15.80 C81.30 17.17 81.25 19.05 81.30 19.70 C81.88 19.80 83.72 19.78 84.80 20.30 C85.88 20.82 87.05 21.82 87.80 22.80 C88.55 23.78 89.02 25.03 89.30 26.20 C89.58 27.37 89.60 28.37 89.50 29.80 C89.40 31.23 89.35 33.48 88.70 34.80 C88.05 36.12 86.62 36.92 85.60 37.70 C84.58 38.48 83.10 39.20 82.60 39.50 C82.52 40.15 82.62 42.25 82.10 43.40 C81.58 44.55 80.50 45.55 79.50 46.40 C78.50 47.25 77.55 48.03 76.10 48.50 C74.65 48.97 72.55 49.22 70.80 49.20 C69.05 49.18 66.97 48.93 65.60 48.40 C64.23 47.87 63.32 46.98 62.60 46.00 C61.88 45.02 61.52 43.08 61.30 42.50 C61.22 42.87 61.23 43.77 60.80 44.70 C60.37 45.63 59.78 47.00 58.70 48.10 C57.62 49.20 56.20 50.53 54.30 51.30 C52.40 52.07 49.80 52.65 47.30 52.70 C44.80 52.75 41.65 52.22 39.30 51.60 C36.95 50.98 34.95 50.08 33.20 49.00 C31.45 47.92 29.78 46.25 28.80 45.10 C27.82 43.95 27.55 42.60 27.30 42.10 C27.12 42.48 26.82 43.62 26.20 44.40 C25.58 45.18 24.83 46.22 23.60 46.80 C22.37 47.38 20.38 47.90 18.80 47.90 C17.22 47.90 15.62 47.48 14.10 46.80 C12.58 46.12 10.80 44.88 9.70 43.80 C8.60 42.72 7.93 41.68 7.50 40.30 C7.07 38.92 7.17 36.30 7.10 35.50 C6.67 35.43 5.30 35.53 4.50 35.10 C3.70 34.67 2.93 33.87 2.30 32.90 C1.67 31.93 1.00 30.48 0.70 29.30 C0.40 28.12 0.43 27.05 0.50 25.80 C0.57 24.55 0.75 22.97 1.10 21.80 C1.45 20.63 1.88 19.58 2.60 18.80 C3.32 18.02 4.37 17.38 5.40 17.10 C6.43 16.82 8.23 17.10 8.80 17.10 C8.58 16.82 7.72 16.27 7.50 15.40 C7.28 14.53 7.13 13.03 7.50 11.90 C7.87 10.77 8.60 9.43 9.70 8.60 C10.80 7.77 12.67 7.25 14.10 6.90 C15.53 6.55 17.00 6.55 18.30 6.50 C19.60 6.45 20.80 6.47 21.90 6.60 C23.00 6.73 24.40 7.18 24.90 7.30Z M24.90 7.30 l0.64 0.63 M60.80 7.50 l-0.58 0.69 M81.30 19.70 l-0.88 0.17 M82.60 39.50 l-0.85 -0.29 M61.30 42.50 l-0.65 -0.62 M27.30 42.10 l0.67 -0.60 M7.10 35.50 l0.88 -0.21 M8.80 17.10 l0.87 0.23" fill="#8ca4d4" stroke="#000" stroke-width="1" stroke-linejoin="miter" shape-rendering="crispEdges"/>
<text transform="translate(519.10 193.50) rotate(0.3) scale(0.810 1)" textLength="70.62" lengthAdjust="spacing" class="t">Regional</text><text transform="translate(519.10 210.55) rotate(0.3) scale(0.810 1)" textLength="26.30" lengthAdjust="spacing" class="t">ISP</text>
<path transform="translate(26.20 248.20)" d="M24.90 7.30 C25.27 6.83 26.15 5.33 27.10 4.50 C28.05 3.67 29.00 2.93 30.60 2.30 C32.20 1.67 34.45 1.05 36.70 0.70 C38.95 0.35 41.75 0.27 44.10 0.20 C46.45 0.13 48.95 0.02 50.80 0.30 C52.65 0.58 53.82 1.20 55.20 1.90 C56.58 2.60 58.17 3.57 59.10 4.50 C60.03 5.43 60.52 7.00 60.80 7.50 C61.32 7.35 62.65 6.80 63.90 6.60 C65.15 6.40 66.85 6.30 68.30 6.30 C69.75 6.30 71.17 6.25 72.60 6.60 C74.03 6.95 75.75 7.58 76.90 8.40 C78.05 9.22 78.82 10.27 79.50 11.50 C80.18 12.73 80.70 14.43 81.00 15.80 C81.30 17.17 81.25 19.05 81.30 19.70 C81.88 19.80 83.72 19.78 84.80 20.30 C85.88 20.82 87.05 21.82 87.80 22.80 C88.55 23.78 89.02 25.03 89.30 26.20 C89.58 27.37 89.60 28.37 89.50 29.80 C89.40 31.23 89.35 33.48 88.70 34.80 C88.05 36.12 86.62 36.92 85.60 37.70 C84.58 38.48 83.10 39.20 82.60 39.50 C82.52 40.15 82.62 42.25 82.10 43.40 C81.58 44.55 80.50 45.55 79.50 46.40 C78.50 47.25 77.55 48.03 76.10 48.50 C74.65 48.97 72.55 49.22 70.80 49.20 C69.05 49.18 66.97 48.93 65.60 48.40 C64.23 47.87 63.32 46.98 62.60 46.00 C61.88 45.02 61.52 43.08 61.30 42.50 C61.22 42.87 61.23 43.77 60.80 44.70 C60.37 45.63 59.78 47.00 58.70 48.10 C57.62 49.20 56.20 50.53 54.30 51.30 C52.40 52.07 49.80 52.65 47.30 52.70 C44.80 52.75 41.65 52.22 39.30 51.60 C36.95 50.98 34.95 50.08 33.20 49.00 C31.45 47.92 29.78 46.25 28.80 45.10 C27.82 43.95 27.55 42.60 27.30 42.10 C27.12 42.48 26.82 43.62 26.20 44.40 C25.58 45.18 24.83 46.22 23.60 46.80 C22.37 47.38 20.38 47.90 18.80 47.90 C17.22 47.90 15.62 47.48 14.10 46.80 C12.58 46.12 10.80 44.88 9.70 43.80 C8.60 42.72 7.93 41.68 7.50 40.30 C7.07 38.92 7.17 36.30 7.10 35.50 C6.67 35.43 5.30 35.53 4.50 35.10 C3.70 34.67 2.93 33.87 2.30 32.90 C1.67 31.93 1.00 30.48 0.70 29.30 C0.40 28.12 0.43 27.05 0.50 25.80 C0.57 24.55 0.75 22.97 1.10 21.80 C1.45 20.63 1.88 19.58 2.60 18.80 C3.32 18.02 4.37 17.38 5.40 17.10 C6.43 16.82 8.23 17.10 8.80 17.10 C8.58 16.82 7.72 16.27 7.50 15.40 C7.28 14.53 7.13 13.03 7.50 11.90 C7.87 10.77 8.60 9.43 9.70 8.60 C10.80 7.77 12.67 7.25 14.10 6.90 C15.53 6.55 17.00 6.55 18.30 6.50 C19.60 6.45 20.80 6.47 21.90 6.60 C23.00 6.73 24.40 7.18 24.90 7.30Z M24.90 7.30 l0.64 0.63 M60.80 7.50 l-0.58 0.69 M81.30 19.70 l-0.88 0.17 M82.60 39.50 l-0.85 -0.29 M61.30 42.50 l-0.65 -0.62 M27.30 42.10 l0.67 -0.60 M7.10 35.50 l0.88 -0.21 M8.80 17.10 l0.87 0.23" fill="#6b90c8" stroke="#000" stroke-width="1" stroke-linejoin="miter" shape-rendering="crispEdges"/>
<text transform="translate(70.90 272.45) rotate(0.3) scale(0.810 1)" textLength="43.33" lengthAdjust="spacing" class="t">Local</text><text transform="translate(71.10 289.30) rotate(0.3) scale(0.810 1)" textLength="26.30" lengthAdjust="spacing" class="t">ISP</text>
<path transform="translate(126.30 248.20)" d="M24.90 7.30 C25.27 6.83 26.15 5.33 27.10 4.50 C28.05 3.67 29.00 2.93 30.60 2.30 C32.20 1.67 34.45 1.05 36.70 0.70 C38.95 0.35 41.75 0.27 44.10 0.20 C46.45 0.13 48.95 0.02 50.80 0.30 C52.65 0.58 53.82 1.20 55.20 1.90 C56.58 2.60 58.17 3.57 59.10 4.50 C60.03 5.43 60.52 7.00 60.80 7.50 C61.32 7.35 62.65 6.80 63.90 6.60 C65.15 6.40 66.85 6.30 68.30 6.30 C69.75 6.30 71.17 6.25 72.60 6.60 C74.03 6.95 75.75 7.58 76.90 8.40 C78.05 9.22 78.82 10.27 79.50 11.50 C80.18 12.73 80.70 14.43 81.00 15.80 C81.30 17.17 81.25 19.05 81.30 19.70 C81.88 19.80 83.72 19.78 84.80 20.30 C85.88 20.82 87.05 21.82 87.80 22.80 C88.55 23.78 89.02 25.03 89.30 26.20 C89.58 27.37 89.60 28.37 89.50 29.80 C89.40 31.23 89.35 33.48 88.70 34.80 C88.05 36.12 86.62 36.92 85.60 37.70 C84.58 38.48 83.10 39.20 82.60 39.50 C82.52 40.15 82.62 42.25 82.10 43.40 C81.58 44.55 80.50 45.55 79.50 46.40 C78.50 47.25 77.55 48.03 76.10 48.50 C74.65 48.97 72.55 49.22 70.80 49.20 C69.05 49.18 66.97 48.93 65.60 48.40 C64.23 47.87 63.32 46.98 62.60 46.00 C61.88 45.02 61.52 43.08 61.30 42.50 C61.22 42.87 61.23 43.77 60.80 44.70 C60.37 45.63 59.78 47.00 58.70 48.10 C57.62 49.20 56.20 50.53 54.30 51.30 C52.40 52.07 49.80 52.65 47.30 52.70 C44.80 52.75 41.65 52.22 39.30 51.60 C36.95 50.98 34.95 50.08 33.20 49.00 C31.45 47.92 29.78 46.25 28.80 45.10 C27.82 43.95 27.55 42.60 27.30 42.10 C27.12 42.48 26.82 43.62 26.20 44.40 C25.58 45.18 24.83 46.22 23.60 46.80 C22.37 47.38 20.38 47.90 18.80 47.90 C17.22 47.90 15.62 47.48 14.10 46.80 C12.58 46.12 10.80 44.88 9.70 43.80 C8.60 42.72 7.93 41.68 7.50 40.30 C7.07 38.92 7.17 36.30 7.10 35.50 C6.67 35.43 5.30 35.53 4.50 35.10 C3.70 34.67 2.93 33.87 2.30 32.90 C1.67 31.93 1.00 30.48 0.70 29.30 C0.40 28.12 0.43 27.05 0.50 25.80 C0.57 24.55 0.75 22.97 1.10 21.80 C1.45 20.63 1.88 19.58 2.60 18.80 C3.32 18.02 4.37 17.38 5.40 17.10 C6.43 16.82 8.23 17.10 8.80 17.10 C8.58 16.82 7.72 16.27 7.50 15.40 C7.28 14.53 7.13 13.03 7.50 11.90 C7.87 10.77 8.60 9.43 9.70 8.60 C10.80 7.77 12.67 7.25 14.10 6.90 C15.53 6.55 17.00 6.55 18.30 6.50 C19.60 6.45 20.80 6.47 21.90 6.60 C23.00 6.73 24.40 7.18 24.90 7.30Z M24.90 7.30 l0.64 0.63 M60.80 7.50 l-0.58 0.69 M81.30 19.70 l-0.88 0.17 M82.60 39.50 l-0.85 -0.29 M61.30 42.50 l-0.65 -0.62 M27.30 42.10 l0.67 -0.60 M7.10 35.50 l0.88 -0.21 M8.80 17.10 l0.87 0.23" fill="#6b90c8" stroke="#000" stroke-width="1" stroke-linejoin="miter" shape-rendering="crispEdges"/>
<text transform="translate(171.00 272.45) rotate(0.3) scale(0.810 1)" textLength="43.33" lengthAdjust="spacing" class="t">Local</text><text transform="translate(171.20 289.30) rotate(0.3) scale(0.810 1)" textLength="26.30" lengthAdjust="spacing" class="t">ISP</text>
<path transform="translate(226.40 248.20)" d="M24.90 7.30 C25.27 6.83 26.15 5.33 27.10 4.50 C28.05 3.67 29.00 2.93 30.60 2.30 C32.20 1.67 34.45 1.05 36.70 0.70 C38.95 0.35 41.75 0.27 44.10 0.20 C46.45 0.13 48.95 0.02 50.80 0.30 C52.65 0.58 53.82 1.20 55.20 1.90 C56.58 2.60 58.17 3.57 59.10 4.50 C60.03 5.43 60.52 7.00 60.80 7.50 C61.32 7.35 62.65 6.80 63.90 6.60 C65.15 6.40 66.85 6.30 68.30 6.30 C69.75 6.30 71.17 6.25 72.60 6.60 C74.03 6.95 75.75 7.58 76.90 8.40 C78.05 9.22 78.82 10.27 79.50 11.50 C80.18 12.73 80.70 14.43 81.00 15.80 C81.30 17.17 81.25 19.05 81.30 19.70 C81.88 19.80 83.72 19.78 84.80 20.30 C85.88 20.82 87.05 21.82 87.80 22.80 C88.55 23.78 89.02 25.03 89.30 26.20 C89.58 27.37 89.60 28.37 89.50 29.80 C89.40 31.23 89.35 33.48 88.70 34.80 C88.05 36.12 86.62 36.92 85.60 37.70 C84.58 38.48 83.10 39.20 82.60 39.50 C82.52 40.15 82.62 42.25 82.10 43.40 C81.58 44.55 80.50 45.55 79.50 46.40 C78.50 47.25 77.55 48.03 76.10 48.50 C74.65 48.97 72.55 49.22 70.80 49.20 C69.05 49.18 66.97 48.93 65.60 48.40 C64.23 47.87 63.32 46.98 62.60 46.00 C61.88 45.02 61.52 43.08 61.30 42.50 C61.22 42.87 61.23 43.77 60.80 44.70 C60.37 45.63 59.78 47.00 58.70 48.10 C57.62 49.20 56.20 50.53 54.30 51.30 C52.40 52.07 49.80 52.65 47.30 52.70 C44.80 52.75 41.65 52.22 39.30 51.60 C36.95 50.98 34.95 50.08 33.20 49.00 C31.45 47.92 29.78 46.25 28.80 45.10 C27.82 43.95 27.55 42.60 27.30 42.10 C27.12 42.48 26.82 43.62 26.20 44.40 C25.58 45.18 24.83 46.22 23.60 46.80 C22.37 47.38 20.38 47.90 18.80 47.90 C17.22 47.90 15.62 47.48 14.10 46.80 C12.58 46.12 10.80 44.88 9.70 43.80 C8.60 42.72 7.93 41.68 7.50 40.30 C7.07 38.92 7.17 36.30 7.10 35.50 C6.67 35.43 5.30 35.53 4.50 35.10 C3.70 34.67 2.93 33.87 2.30 32.90 C1.67 31.93 1.00 30.48 0.70 29.30 C0.40 28.12 0.43 27.05 0.50 25.80 C0.57 24.55 0.75 22.97 1.10 21.80 C1.45 20.63 1.88 19.58 2.60 18.80 C3.32 18.02 4.37 17.38 5.40 17.10 C6.43 16.82 8.23 17.10 8.80 17.10 C8.58 16.82 7.72 16.27 7.50 15.40 C7.28 14.53 7.13 13.03 7.50 11.90 C7.87 10.77 8.60 9.43 9.70 8.60 C10.80 7.77 12.67 7.25 14.10 6.90 C15.53 6.55 17.00 6.55 18.30 6.50 C19.60 6.45 20.80 6.47 21.90 6.60 C23.00 6.73 24.40 7.18 24.90 7.30Z M24.90 7.30 l0.64 0.63 M60.80 7.50 l-0.58 0.69 M81.30 19.70 l-0.88 0.17 M82.60 39.50 l-0.85 -0.29 M61.30 42.50 l-0.65 -0.62 M27.30 42.10 l0.67 -0.60 M7.10 35.50 l0.88 -0.21 M8.80 17.10 l0.87 0.23" fill="#6b90c8" stroke="#000" stroke-width="1" stroke-linejoin="miter" shape-rendering="crispEdges"/>
<text transform="translate(271.10 272.45) rotate(0.3) scale(0.810 1)" textLength="43.33" lengthAdjust="spacing" class="t">Local</text><text transform="translate(271.30 289.30) rotate(0.3) scale(0.810 1)" textLength="26.30" lengthAdjust="spacing" class="t">ISP</text>
<path transform="translate(326.50 248.20)" d="M24.90 7.30 C25.27 6.83 26.15 5.33 27.10 4.50 C28.05 3.67 29.00 2.93 30.60 2.30 C32.20 1.67 34.45 1.05 36.70 0.70 C38.95 0.35 41.75 0.27 44.10 0.20 C46.45 0.13 48.95 0.02 50.80 0.30 C52.65 0.58 53.82 1.20 55.20 1.90 C56.58 2.60 58.17 3.57 59.10 4.50 C60.03 5.43 60.52 7.00 60.80 7.50 C61.32 7.35 62.65 6.80 63.90 6.60 C65.15 6.40 66.85 6.30 68.30 6.30 C69.75 6.30 71.17 6.25 72.60 6.60 C74.03 6.95 75.75 7.58 76.90 8.40 C78.05 9.22 78.82 10.27 79.50 11.50 C80.18 12.73 80.70 14.43 81.00 15.80 C81.30 17.17 81.25 19.05 81.30 19.70 C81.88 19.80 83.72 19.78 84.80 20.30 C85.88 20.82 87.05 21.82 87.80 22.80 C88.55 23.78 89.02 25.03 89.30 26.20 C89.58 27.37 89.60 28.37 89.50 29.80 C89.40 31.23 89.35 33.48 88.70 34.80 C88.05 36.12 86.62 36.92 85.60 37.70 C84.58 38.48 83.10 39.20 82.60 39.50 C82.52 40.15 82.62 42.25 82.10 43.40 C81.58 44.55 80.50 45.55 79.50 46.40 C78.50 47.25 77.55 48.03 76.10 48.50 C74.65 48.97 72.55 49.22 70.80 49.20 C69.05 49.18 66.97 48.93 65.60 48.40 C64.23 47.87 63.32 46.98 62.60 46.00 C61.88 45.02 61.52 43.08 61.30 42.50 C61.22 42.87 61.23 43.77 60.80 44.70 C60.37 45.63 59.78 47.00 58.70 48.10 C57.62 49.20 56.20 50.53 54.30 51.30 C52.40 52.07 49.80 52.65 47.30 52.70 C44.80 52.75 41.65 52.22 39.30 51.60 C36.95 50.98 34.95 50.08 33.20 49.00 C31.45 47.92 29.78 46.25 28.80 45.10 C27.82 43.95 27.55 42.60 27.30 42.10 C27.12 42.48 26.82 43.62 26.20 44.40 C25.58 45.18 24.83 46.22 23.60 46.80 C22.37 47.38 20.38 47.90 18.80 47.90 C17.22 47.90 15.62 47.48 14.10 46.80 C12.58 46.12 10.80 44.88 9.70 43.80 C8.60 42.72 7.93 41.68 7.50 40.30 C7.07 38.92 7.17 36.30 7.10 35.50 C6.67 35.43 5.30 35.53 4.50 35.10 C3.70 34.67 2.93 33.87 2.30 32.90 C1.67 31.93 1.00 30.48 0.70 29.30 C0.40 28.12 0.43 27.05 0.50 25.80 C0.57 24.55 0.75 22.97 1.10 21.80 C1.45 20.63 1.88 19.58 2.60 18.80 C3.32 18.02 4.37 17.38 5.40 17.10 C6.43 16.82 8.23 17.10 8.80 17.10 C8.58 16.82 7.72 16.27 7.50 15.40 C7.28 14.53 7.13 13.03 7.50 11.90 C7.87 10.77 8.60 9.43 9.70 8.60 C10.80 7.77 12.67 7.25 14.10 6.90 C15.53 6.55 17.00 6.55 18.30 6.50 C19.60 6.45 20.80 6.47 21.90 6.60 C23.00 6.73 24.40 7.18 24.90 7.30Z M24.90 7.30 l0.64 0.63 M60.80 7.50 l-0.58 0.69 M81.30 19.70 l-0.88 0.17 M82.60 39.50 l-0.85 -0.29 M61.30 42.50 l-0.65 -0.62 M27.30 42.10 l0.67 -0.60 M7.10 35.50 l0.88 -0.21 M8.80 17.10 l0.87 0.23" fill="#6b90c8" stroke="#000" stroke-width="1" stroke-linejoin="miter" shape-rendering="crispEdges"/>
<text transform="translate(371.20 272.45) rotate(0.3) scale(0.810 1)" textLength="43.33" lengthAdjust="spacing" class="t">Local</text><text transform="translate(371.40 289.30) rotate(0.3) scale(0.810 1)" textLength="26.30" lengthAdjust="spacing" class="t">ISP</text>
<path transform="translate(426.55 248.20)" d="M24.90 7.30 C25.27 6.83 26.15 5.33 27.10 4.50 C28.05 3.67 29.00 2.93 30.60 2.30 C32.20 1.67 34.45 1.05 36.70 0.70 C38.95 0.35 41.75 0.27 44.10 0.20 C46.45 0.13 48.95 0.02 50.80 0.30 C52.65 0.58 53.82 1.20 55.20 1.90 C56.58 2.60 58.17 3.57 59.10 4.50 C60.03 5.43 60.52 7.00 60.80 7.50 C61.32 7.35 62.65 6.80 63.90 6.60 C65.15 6.40 66.85 6.30 68.30 6.30 C69.75 6.30 71.17 6.25 72.60 6.60 C74.03 6.95 75.75 7.58 76.90 8.40 C78.05 9.22 78.82 10.27 79.50 11.50 C80.18 12.73 80.70 14.43 81.00 15.80 C81.30 17.17 81.25 19.05 81.30 19.70 C81.88 19.80 83.72 19.78 84.80 20.30 C85.88 20.82 87.05 21.82 87.80 22.80 C88.55 23.78 89.02 25.03 89.30 26.20 C89.58 27.37 89.60 28.37 89.50 29.80 C89.40 31.23 89.35 33.48 88.70 34.80 C88.05 36.12 86.62 36.92 85.60 37.70 C84.58 38.48 83.10 39.20 82.60 39.50 C82.52 40.15 82.62 42.25 82.10 43.40 C81.58 44.55 80.50 45.55 79.50 46.40 C78.50 47.25 77.55 48.03 76.10 48.50 C74.65 48.97 72.55 49.22 70.80 49.20 C69.05 49.18 66.97 48.93 65.60 48.40 C64.23 47.87 63.32 46.98 62.60 46.00 C61.88 45.02 61.52 43.08 61.30 42.50 C61.22 42.87 61.23 43.77 60.80 44.70 C60.37 45.63 59.78 47.00 58.70 48.10 C57.62 49.20 56.20 50.53 54.30 51.30 C52.40 52.07 49.80 52.65 47.30 52.70 C44.80 52.75 41.65 52.22 39.30 51.60 C36.95 50.98 34.95 50.08 33.20 49.00 C31.45 47.92 29.78 46.25 28.80 45.10 C27.82 43.95 27.55 42.60 27.30 42.10 C27.12 42.48 26.82 43.62 26.20 44.40 C25.58 45.18 24.83 46.22 23.60 46.80 C22.37 47.38 20.38 47.90 18.80 47.90 C17.22 47.90 15.62 47.48 14.10 46.80 C12.58 46.12 10.80 44.88 9.70 43.80 C8.60 42.72 7.93 41.68 7.50 40.30 C7.07 38.92 7.17 36.30 7.10 35.50 C6.67 35.43 5.30 35.53 4.50 35.10 C3.70 34.67 2.93 33.87 2.30 32.90 C1.67 31.93 1.00 30.48 0.70 29.30 C0.40 28.12 0.43 27.05 0.50 25.80 C0.57 24.55 0.75 22.97 1.10 21.80 C1.45 20.63 1.88 19.58 2.60 18.80 C3.32 18.02 4.37 17.38 5.40 17.10 C6.43 16.82 8.23 17.10 8.80 17.10 C8.58 16.82 7.72 16.27 7.50 15.40 C7.28 14.53 7.13 13.03 7.50 11.90 C7.87 10.77 8.60 9.43 9.70 8.60 C10.80 7.77 12.67 7.25 14.10 6.90 C15.53 6.55 17.00 6.55 18.30 6.50 C19.60 6.45 20.80 6.47 21.90 6.60 C23.00 6.73 24.40 7.18 24.90 7.30Z M24.90 7.30 l0.64 0.63 M60.80 7.50 l-0.58 0.69 M81.30 19.70 l-0.88 0.17 M82.60 39.50 l-0.85 -0.29 M61.30 42.50 l-0.65 -0.62 M27.30 42.10 l0.67 -0.60 M7.10 35.50 l0.88 -0.21 M8.80 17.10 l0.87 0.23" fill="#6b90c8" stroke="#000" stroke-width="1" stroke-linejoin="miter" shape-rendering="crispEdges"/>
<text transform="translate(471.25 272.45) rotate(0.3) scale(0.810 1)" textLength="43.33" lengthAdjust="spacing" class="t">Local</text><text transform="translate(471.45 289.30) rotate(0.3) scale(0.810 1)" textLength="26.30" lengthAdjust="spacing" class="t">ISP</text>
<path transform="translate(526.60 248.20)" d="M24.90 7.30 C25.27 6.83 26.15 5.33 27.10 4.50 C28.05 3.67 29.00 2.93 30.60 2.30 C32.20 1.67 34.45 1.05 36.70 0.70 C38.95 0.35 41.75 0.27 44.10 0.20 C46.45 0.13 48.95 0.02 50.80 0.30 C52.65 0.58 53.82 1.20 55.20 1.90 C56.58 2.60 58.17 3.57 59.10 4.50 C60.03 5.43 60.52 7.00 60.80 7.50 C61.32 7.35 62.65 6.80 63.90 6.60 C65.15 6.40 66.85 6.30 68.30 6.30 C69.75 6.30 71.17 6.25 72.60 6.60 C74.03 6.95 75.75 7.58 76.90 8.40 C78.05 9.22 78.82 10.27 79.50 11.50 C80.18 12.73 80.70 14.43 81.00 15.80 C81.30 17.17 81.25 19.05 81.30 19.70 C81.88 19.80 83.72 19.78 84.80 20.30 C85.88 20.82 87.05 21.82 87.80 22.80 C88.55 23.78 89.02 25.03 89.30 26.20 C89.58 27.37 89.60 28.37 89.50 29.80 C89.40 31.23 89.35 33.48 88.70 34.80 C88.05 36.12 86.62 36.92 85.60 37.70 C84.58 38.48 83.10 39.20 82.60 39.50 C82.52 40.15 82.62 42.25 82.10 43.40 C81.58 44.55 80.50 45.55 79.50 46.40 C78.50 47.25 77.55 48.03 76.10 48.50 C74.65 48.97 72.55 49.22 70.80 49.20 C69.05 49.18 66.97 48.93 65.60 48.40 C64.23 47.87 63.32 46.98 62.60 46.00 C61.88 45.02 61.52 43.08 61.30 42.50 C61.22 42.87 61.23 43.77 60.80 44.70 C60.37 45.63 59.78 47.00 58.70 48.10 C57.62 49.20 56.20 50.53 54.30 51.30 C52.40 52.07 49.80 52.65 47.30 52.70 C44.80 52.75 41.65 52.22 39.30 51.60 C36.95 50.98 34.95 50.08 33.20 49.00 C31.45 47.92 29.78 46.25 28.80 45.10 C27.82 43.95 27.55 42.60 27.30 42.10 C27.12 42.48 26.82 43.62 26.20 44.40 C25.58 45.18 24.83 46.22 23.60 46.80 C22.37 47.38 20.38 47.90 18.80 47.90 C17.22 47.90 15.62 47.48 14.10 46.80 C12.58 46.12 10.80 44.88 9.70 43.80 C8.60 42.72 7.93 41.68 7.50 40.30 C7.07 38.92 7.17 36.30 7.10 35.50 C6.67 35.43 5.30 35.53 4.50 35.10 C3.70 34.67 2.93 33.87 2.30 32.90 C1.67 31.93 1.00 30.48 0.70 29.30 C0.40 28.12 0.43 27.05 0.50 25.80 C0.57 24.55 0.75 22.97 1.10 21.80 C1.45 20.63 1.88 19.58 2.60 18.80 C3.32 18.02 4.37 17.38 5.40 17.10 C6.43 16.82 8.23 17.10 8.80 17.10 C8.58 16.82 7.72 16.27 7.50 15.40 C7.28 14.53 7.13 13.03 7.50 11.90 C7.87 10.77 8.60 9.43 9.70 8.60 C10.80 7.77 12.67 7.25 14.10 6.90 C15.53 6.55 17.00 6.55 18.30 6.50 C19.60 6.45 20.80 6.47 21.90 6.60 C23.00 6.73 24.40 7.18 24.90 7.30Z M24.90 7.30 l0.64 0.63 M60.80 7.50 l-0.58 0.69 M81.30 19.70 l-0.88 0.17 M82.60 39.50 l-0.85 -0.29 M61.30 42.50 l-0.65 -0.62 M27.30 42.10 l0.67 -0.60 M7.10 35.50 l0.88 -0.21 M8.80 17.10 l0.87 0.23" fill="#6b90c8" stroke="#000" stroke-width="1" stroke-linejoin="miter" shape-rendering="crispEdges"/>
<text transform="translate(571.30 272.45) rotate(0.3) scale(0.810 1)" textLength="43.33" lengthAdjust="spacing" class="t">Local</text><text transform="translate(571.50 289.30) rotate(0.3) scale(0.810 1)" textLength="26.30" lengthAdjust="spacing" class="t">ISP</text>
<path d="M355.20 344.90 C354.82 344.77 354.07 344.50 352.90 344.10 C351.73 343.70 350.55 343.68 348.20 342.50 C345.85 341.32 341.93 339.02 338.80 337.00 C335.67 334.98 332.53 332.78 329.40 330.40 C326.27 328.02 323.98 326.07 320.00 322.70 C316.02 319.33 309.57 313.85 305.50 310.20 C301.43 306.55 298.77 303.93 295.60 300.80 C292.43 297.67 289.73 294.53 286.50 291.40 C283.27 288.27 279.60 285.20 276.20 282.00 C272.80 278.80 269.27 275.40 266.10 272.20 C262.93 269.00 260.10 265.93 257.20 262.80 C254.30 259.67 251.60 256.53 248.70 253.40 C245.80 250.27 242.73 247.20 239.80 244.00 C236.87 240.80 233.80 237.40 231.10 234.20 C228.40 231.00 226.03 227.93 223.60 224.80 C221.17 221.67 218.77 218.40 216.50 215.40 C214.23 212.40 212.12 209.67 210.00 206.80 C207.88 203.93 205.88 201.20 203.75 198.20 C201.62 195.20 199.27 191.93 197.20 188.80 C195.12 185.67 193.25 182.53 191.30 179.40 C189.35 176.27 187.33 173.20 185.50 170.00 C183.67 166.80 181.68 163.40 180.30 160.20 C178.92 157.00 178.02 153.93 177.20 150.80 C176.38 147.67 175.83 144.53 175.40 141.40 C174.97 138.27 174.75 135.57 174.60 132.00 C174.45 128.43 174.52 124.00 174.50 120.00 C174.48 116.00 174.45 111.33 174.50 108.00 C174.55 104.67 174.63 102.38 174.80 100.00 C174.97 97.62 175.12 96.00 175.50 93.70 C175.88 91.40 176.47 88.47 177.10 86.20 C177.73 83.93 178.20 82.30 179.30 80.10 C180.40 77.90 181.93 75.12 183.70 73.00 C185.47 70.88 187.58 68.95 189.90 67.40 C192.22 65.85 195.18 64.70 197.60 63.70 C200.02 62.70 201.70 62.20 204.40 61.40 C207.10 60.60 210.67 59.57 213.80 58.90 C216.93 58.23 220.07 57.78 223.20 57.40 C226.33 57.02 229.47 56.77 232.60 56.60 C235.73 56.43 230.77 56.43 242.00 56.40 C253.23 56.37 277.83 56.40 300.00 56.40 C322.17 56.40 360.10 56.32 375.00 56.40 C389.90 56.48 385.43 56.60 389.40 56.85 C393.37 57.10 395.67 57.41 398.80 57.90 C401.93 58.39 405.07 59.12 408.20 59.80 C411.33 60.48 414.47 61.18 417.60 62.00 C420.73 62.82 423.60 63.67 427.00 64.70 C430.40 65.73 434.37 66.84 438.00 68.20 C441.63 69.56 445.43 71.18 448.80 72.85 C452.17 74.52 455.07 76.12 458.20 78.20 C461.33 80.28 464.88 83.13 467.60 85.30 C470.32 87.47 472.14 89.18 474.50 91.20 C476.86 93.22 479.42 94.80 481.75 97.40 C484.08 100.00 486.38 103.67 488.50 106.80 C490.62 109.93 492.50 113.08 494.45 116.20 C496.40 119.32 498.34 122.47 500.20 125.50 C502.06 128.53 503.92 131.35 505.60 134.40 C507.28 137.45 508.73 140.67 510.30 143.80 C511.87 146.93 513.38 150.03 515.00 153.20 C516.62 156.37 518.40 159.75 520.00 162.80 C521.60 165.85 523.18 168.58 524.60 171.50 C526.02 174.42 527.25 177.42 528.50 180.30 C529.75 183.18 531.02 185.85 532.10 188.80 C533.18 191.75 534.08 194.88 535.00 198.00 C535.92 201.12 536.72 204.33 537.60 207.50 C538.48 210.67 539.45 213.78 540.30 217.00 C541.15 220.22 541.98 223.63 542.70 226.80 C543.42 229.97 544.00 232.80 544.60 236.00 C545.20 239.20 545.80 242.77 546.30 246.00 C546.80 249.23 547.25 252.27 547.60 255.40 C547.95 258.53 548.25 261.70 548.40 264.80 C548.55 267.90 548.50 270.80 548.50 274.00 C548.50 277.20 548.53 280.77 548.40 284.00 C548.27 287.23 548.13 290.27 547.70 293.40 C547.27 296.53 546.55 299.67 545.80 302.80 C545.05 305.93 544.08 309.25 543.20 312.20 C542.32 315.15 541.48 317.97 540.50 320.50 C539.52 323.03 538.58 325.31 537.35 327.40 C536.12 329.49 534.36 331.48 533.10 333.05 C531.84 334.62 530.98 335.61 529.80 336.80 C528.62 337.99 526.63 339.63 526.00 340.20" fill="none" stroke="#1f5fb0" stroke-width="3.6" stroke-linejoin="round" shape-rendering="crispEdges"/>
<path d="M369.9 345.9 L352.3 335.9 L355.6 344.9 L350.1 350.9 Z" fill="#1f5fb0"/>
<path d="M508.9 345.6 L524.7 333 L524.8 341.6 L528.7 348.4 Z" fill="#1f5fb0"/>
<g transform="translate(0.0 0)">
<path d="M371.3 322.6 L376 320.6 H423 L417 322.9 Z" fill="#b4b4b4"/>
<path d="M417 322.6 L423 320.6 V354.7 L417 358.2 Z" fill="#323232"/>
<rect x="371.3" y="322.5" width="45.7" height="35.7" fill="#808080"/>
<rect x="374" y="325.6" width="40" height="29.2" rx="2.2" fill="#e4e4e4" stroke="#a4a4a4" stroke-width="0.6"/>
<path d="M375.3 358.2 H415.8 V359.5 H375.3 Z" fill="#5c5c5c"/>
<path d="M374.8 359.5 H415.5 L413.7 362.5 H371.3 Z" fill="#acacac"/>
<path d="M371.3 362.5 H413.7 V365.8 H371.3 Z" fill="#808080"/>
<path d="M414.2 360.4 L423 355.1 V358.4 L416.2 367.7 H413.7 V362.5 Z" fill="#323232"/>
<path d="M375.3 365.8 H413.7 V367.7 H375.3 Z" fill="#5c5c5c"/>
<path d="M368.3 368 H417.8 L413.8 376.6 H363 Z" fill="#acacac"/>
<path d="M363 376.6 H413.9 V379.6 H363 Z" fill="#808080"/>
<path d="M413.8 376.6 L417.8 368 L419.5 368.6 V372.4 L413.9 379.6 Z" fill="#323232"/>
<path d="M422 370.3 H429.4 L427 376.6 H419.6 Z" fill="#acacac"/>
<path d="M419.6 376.6 H427.3 V379.6 H419.6 Z" fill="#808080"/>
<path d="M427 376.6 L429.4 370.3 L430.9 370 V373.6 L427.3 379.6 Z" fill="#323232"/>
<path d="M420.2 361.5 H428.5 C 432 361.8 434 363.3 433.6 364.8 C 433.2 366.6 428.5 367.3 427.4 370" fill="none" stroke="#606060" stroke-width="1"/>
</g>
<g transform="translate(86.0 0)">
<path d="M371.3 322.6 L376 320.6 H423 L417 322.9 Z" fill="#b4b4b4"/>
<path d="M417 322.6 L423 320.6 V354.7 L417 358.2 Z" fill="#323232"/>
<rect x="371.3" y="322.5" width="45.7" height="35.7" fill="#808080"/>
<rect x="374" y="325.6" width="40" height="29.2" rx="2.2" fill="#e4e4e4" stroke="#a4a4a4" stroke-width="0.6"/>
<path d="M375.3 358.2 H415.8 V359.5 H375.3 Z" fill="#5c5c5c"/>
<path d="M374.8 359.5 H415.5 L413.7 362.5 H371.3 Z" fill="#acacac"/>
<path d="M371.3 362.5 H413.7 V365.8 H371.3 Z" fill="#808080"/>
<path d="M414.2 360.4 L423 355.1 V358.4 L416.2 367.7 H413.7 V362.5 Z" fill="#323232"/>
<path d="M375.3 365.8 H413.7 V367.7 H375.3 Z" fill="#5c5c5c"/>
<path d="M368.3 368 H417.8 L413.8 376.6 H363 Z" fill="#acacac"/>
<path d="M363 376.6 H413.9 V379.6 H363 Z" fill="#808080"/>
<path d="M413.8 376.6 L417.8 368 L419.5 368.6 V372.4 L413.9 379.6 Z" fill="#323232"/>
<path d="M422 370.3 H429.4 L427 376.6 H419.6 Z" fill="#acacac"/>
<path d="M419.6 376.6 H427.3 V379.6 H419.6 Z" fill="#808080"/>
<path d="M427 376.6 L429.4 370.3 L430.9 370 V373.6 L427.3 379.6 Z" fill="#323232"/>
<path d="M420.2 361.5 H428.5 C 432 361.8 434 363.3 433.6 364.8 C 433.2 366.6 428.5 367.3 427.4 370" fill="none" stroke="#606060" stroke-width="1"/>
</g>
<text transform="translate(71.40 44.60) rotate(0.3) scale(0.810 1)" textLength="67.16" lengthAdjust="spacing" class="t">Provider</text>
<text transform="translate(71.50 111.30) rotate(0.3) scale(0.810 1)" textLength="46.42" lengthAdjust="spacing" class="t">Client</text>
<path d="M71 92V60" stroke="#000" stroke-width="2" fill="none"/>
<path d="M71 50.6 L77 64.6 L71 62 L65 64.6 Z" fill="#000"/>
</svg>
</body></html>
